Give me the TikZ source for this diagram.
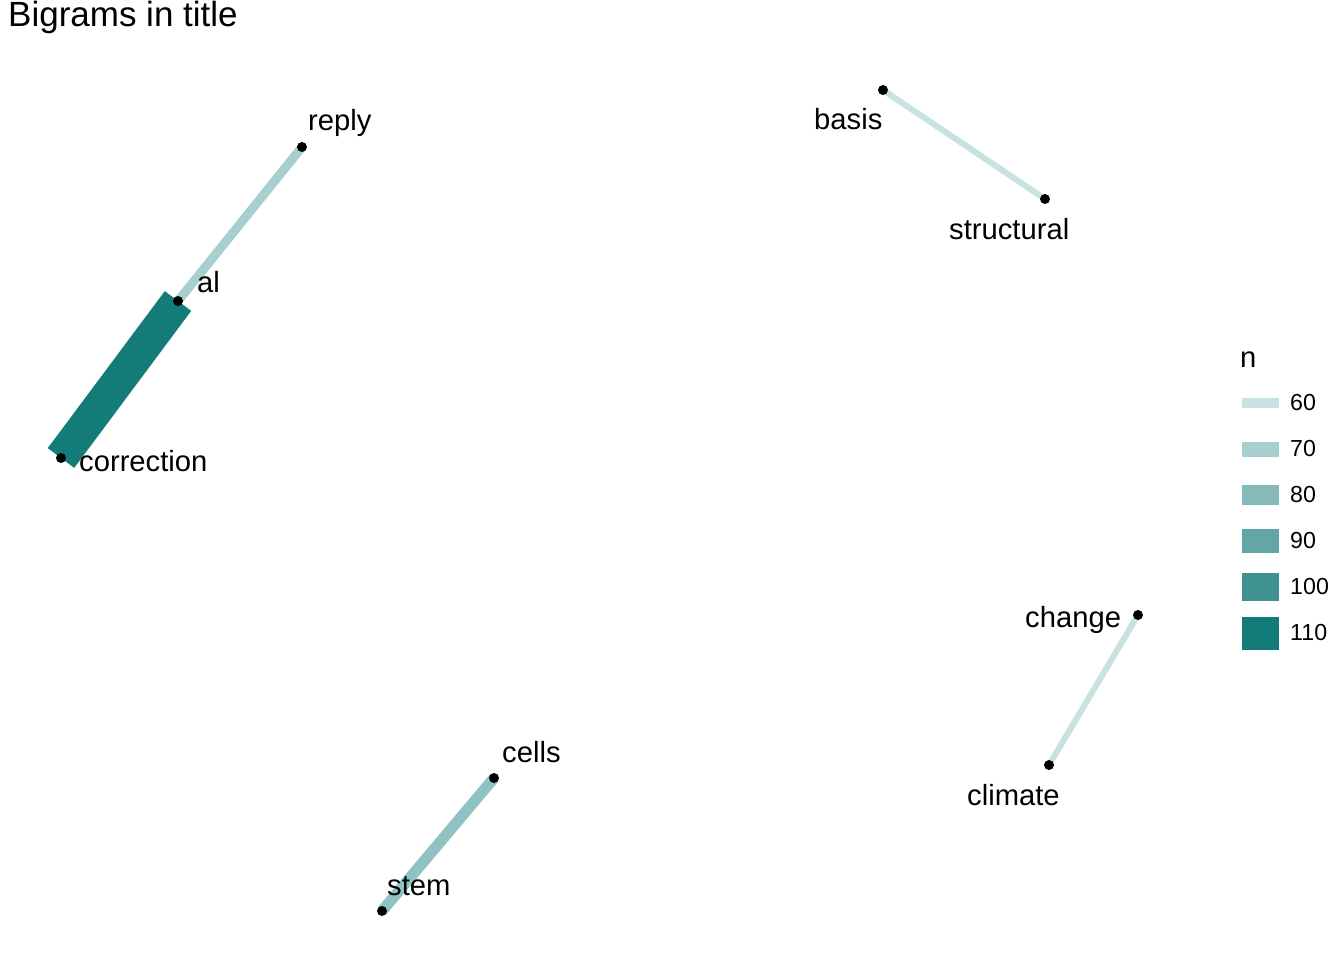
\documentclass[tikz,border=0pt]{standalone}
\usepackage{fontspec}
\setmainfont{Liberation Sans}
\usepackage{tikz}
\usetikzlibrary{positioning, calc}
\definecolor{nsixty}{RGB}{200, 226, 226}
\definecolor{nseventy}{RGB}{168, 207, 207}
\definecolor{neighty}{RGB}{134, 185, 185}
\definecolor{nninety}{RGB}{98, 166, 166}
\definecolor{nhundred}{RGB}{63, 146, 144}
\definecolor{nhundredten}{RGB}{20, 124, 120}
\definecolor{nstem}{RGB}{143, 194, 194}

\begin{document}
\begin{tikzpicture}[
    x=1pt, y=-1pt,
    dot/.style={circle, fill=black, inner sep=0pt, minimum size=10pt},
    word/.style={anchor=base west, inner sep=0pt, font=\fontsize{29.2}{35}\selectfont},
    edge/.style={line cap=butt},
    keyline/.style={line cap=butt},
    keytext/.style={anchor=west, inner sep=0pt, font=\fontsize{23.2}{28}\selectfont}
]
\useasboundingbox[fill=white] (0,0) rectangle (1344,960);

% Title
\node[anchor=base west, inner sep=0pt, font=\fontsize{35}{42}\selectfont] (title) at (8,27) {Bigrams in title};

% Word positions
\coordinate (reply) at (302,147);
\coordinate (al) at (178,301);
\coordinate (correction) at (61,458);
\coordinate (basis) at (883,90);
\coordinate (structural) at (1045,199);
\coordinate (change) at (1138,615);
\coordinate (climate) at (1049,765);
\coordinate (cells) at (494,778);
\coordinate (stem) at (382,911);

% Edges
\draw[edge, line width=9pt, nseventy] (reply) -- (al);
\draw[edge, line width=33pt, nhundredten] (al) -- (correction);
\draw[edge, line width=6pt, nsixty] (basis) -- (structural);
\draw[edge, line width=6pt, nsixty] (change) -- (climate);
\draw[edge, line width=11pt, nstem] (cells) -- (stem);

% Dots
\foreach \w in {reply, al, correction, basis, structural, change, climate, cells, stem}
    \node[dot] (\w-dot) at (\w) {};

% Labels
\node[word] (reply-lab) at (308,131) {reply};
\node[word] (al-lab) at (197,292) {al};
\node[word] (correction-lab) at (79,471) {correction};
\node[word] (basis-lab) at (814,130) {basis};
\node[word] (structural-lab) at (949,240) {structural};
\node[word] (change-lab) at (1025,627) {change};
\node[word] (climate-lab) at (967,805) {climate};
\node[word] (cells-lab) at (502,762) {cells};
\node[word] (stem-lab) at (387,895) {stem};

% Legend
\node[word] (legend-title) at (1240,367) {n};
\draw[keyline, line width=10pt, nsixty] (1242,403) -- (1279,403);
\draw[keyline, line width=15pt, nseventy] (1242,449) -- (1279,449);
\draw[keyline, line width=20pt, neighty] (1242,495) -- (1279,495);
\draw[keyline, line width=24pt, nninety] (1242,541) -- (1279,541);
\draw[keyline, line width=28pt, nhundred] (1242,587) -- (1279,587);
\draw[keyline, line width=33pt, nhundredten] (1242,633) -- (1279,633);
\node[keytext] (key60) at (1290,403) {60};
\node[keytext] (key70) at (1290,449) {70};
\node[keytext] (key80) at (1290,495) {80};
\node[keytext] (key90) at (1290,541) {90};
\node[keytext] (key100) at (1290,587) {100};
\node[keytext] (key110) at (1290,633) {110};

\end{tikzpicture}
\end{document}
